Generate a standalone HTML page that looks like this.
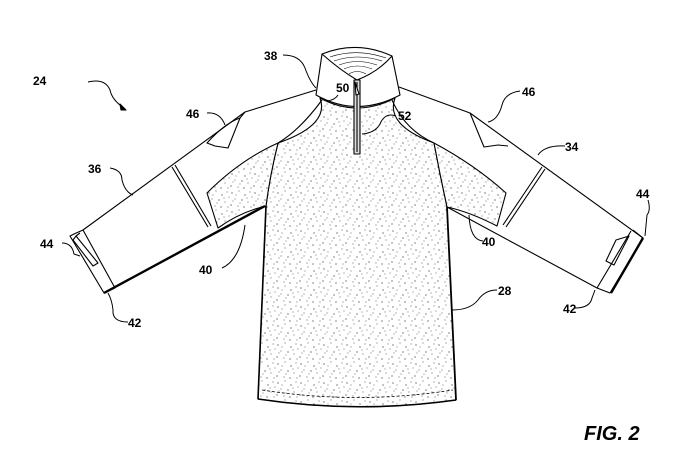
<!DOCTYPE html>
<html><head><style>
html,body{margin:0;padding:0;background:#fff}
svg{display:block}
text{font-family:"Liberation Sans",sans-serif;font-weight:bold;font-size:12px;fill:#000}
</style></head><body>
<svg width="695" height="468" viewBox="0 0 695 468" xmlns="http://www.w3.org/2000/svg">
<defs>
<pattern id="st" width="23" height="19" patternUnits="userSpaceOnUse">
<rect width="23" height="19" fill="#fff"/>
<g fill="#333">
<circle cx="2" cy="3" r=".6"/><circle cx="9" cy="1" r=".5"/><circle cx="15" cy="5" r=".6"/><circle cx="20" cy="2" r=".5"/>
<circle cx="5" cy="9" r=".5"/><circle cx="12" cy="10" r=".6"/><circle cx="18" cy="12" r=".5"/><circle cx="1" cy="15" r=".6"/>
<circle cx="8" cy="16" r=".5"/><circle cx="14" cy="17" r=".6"/><circle cx="21" cy="17" r=".5"/><circle cx="6" cy="5" r=".45"/>
<circle cx="17" cy="8" r=".45"/><circle cx="10" cy="13" r=".45"/><circle cx="3" cy="11" r=".45"/><circle cx="22" cy="7" r=".45"/>
</g>
</pattern>
</defs>
<g fill="none" stroke="#000" stroke-width="1.1" stroke-linejoin="round">
<path d="M320,98 Q330,125 278,143 Q270,175 266,206 L258,399 Q357,414 456,400 L447,207 Q440,175 434,143 Q385,125 395,98 Q357,118 320,98 Z" fill="url(#st)"/>
<path d="M278,143 Q240,160 207,193 L218,228 Q240,212 266,206 Q270,175 278,143 Z" fill="url(#st)"/>
<path d="M434,143 Q475,165 506,193 L497,226 Q470,212 447,207 Q440,175 434,143 Z" fill="url(#st)"/>
<path d="M322,54 Q357,40 392,56 L400,95 Q357,118 316,95 Z" fill="#fff"/>
<path d="M322,54 Q340,70 357,80 Q378,72 392,56"/>
<g stroke-width=".6"><path d="M330,57 Q357,48 386,58"/><path d="M334,61 Q357,53 382,61"/><path d="M339,65 Q357,58 377,65"/><path d="M344,69 Q357,63 372,69"/><path d="M349,74 Q357,69 366,74"/></g>
<rect x="354" y="80" width="6" height="74" fill="#ddd"/>
<line x1="357" y1="82" x2="357" y2="152"/>
<path d="M355,82 l4,12 l-3,1 z" fill="#fff"/>
<!-- left sleeve -->
<path d="M316,90 L245,112 L83,230 L115,288"/>
<path d="M104,293 L265,206" stroke-width="2.4"/>
<path d="M83,230 L74,234 L70,236 L104,293 L115,288"/>
<path d="M73,240 L76,236 L98,263 L93,266 Z M76,236 L80,233"/>
<path d="M278,143 Q300,130 322,100"/>
<path d="M172,167 L208,227 M175,165 L211,226"/>
<path d="M245,112 L240,118 L228,148 L215,146 L207,143 Q225,123 240,118"/>
<!-- right sleeve -->
<path d="M399,87 L470,113 L643,238 L610,293 L597,288 L447,207"/>
<path d="M631,231 L597,288"/>
<path d="M643,238 L611,293" stroke-width="2.4"/>
<path d="M633,230 L643,238 M616,240 L629,236 L614,265 L606,261 Z"/>
<path d="M434,143 Q405,130 392,100"/>
<path d="M542,167 L503,225 M545,169 L506,227"/>
<path d="M470,113 L484,147 L498,145 L508,146"/>
<path d="M266,206 L258,399" stroke-width="1.6"/>
<path d="M447,207 L456,400" stroke-width="1.8"/>
<path d="M258,399 Q357,414 456,400" stroke-width="1.6"/>
<path d="M262,390 Q357,405 453,390" stroke-dasharray="3,2" stroke-width=".8"/>
<g stroke-width="1">
<path d="M88,82 Q105,78 110,90 Q112,100 124,108"/>
<path d="M283,55 Q300,55 305,68 Q310,82 316,88"/>
<path d="M338,95 Q335,100 327,101"/>
<path d="M207,113 Q220,112 225,125"/>
<path d="M396,116 Q385,112 380,124 Q375,133 362,134"/>
<path d="M520,91 Q505,93 502,105 Q498,120 488,122"/>
<path d="M565,146 Q545,145 538,155"/>
<path d="M110,168 Q122,170 122,180 Q125,192 133,195"/>
<path d="M62,243 Q72,243 74,254 L80,256"/>
<path d="M222,268 Q240,260 245,225"/>
<path d="M483,241 Q470,240 469,215"/>
<path d="M648,200 Q651,210 647,215 L645,236"/>
<path d="M497,290 Q485,290 478,300 Q470,310 452,310"/>
<path d="M128,322 Q112,322 113,310 Q112,300 108,293"/>
<path d="M575,308 Q590,308 592,298 L595,290"/>
</g>
<path d="M120,104 L126,110 L121,110 Z" fill="#000"/>
</g>
<g>
<text x="33" y="85">24</text>
<text x="264" y="60">38</text>
<text x="336" y="92">50</text>
<text x="186" y="118">46</text>
<text x="398" y="120">52</text>
<text x="522" y="96">46</text>
<text x="565" y="151">34</text>
<text x="88" y="173">36</text>
<text x="40" y="248">44</text>
<text x="199" y="274">40</text>
<text x="482" y="246">40</text>
<text x="636" y="198">44</text>
<text x="498" y="295">28</text>
<text x="128" y="327">42</text>
<text x="563" y="313">42</text>
<text x="584" y="440" style="font-size:20px;font-style:italic">FIG. 2</text>
</g>
</svg>
</body></html>
